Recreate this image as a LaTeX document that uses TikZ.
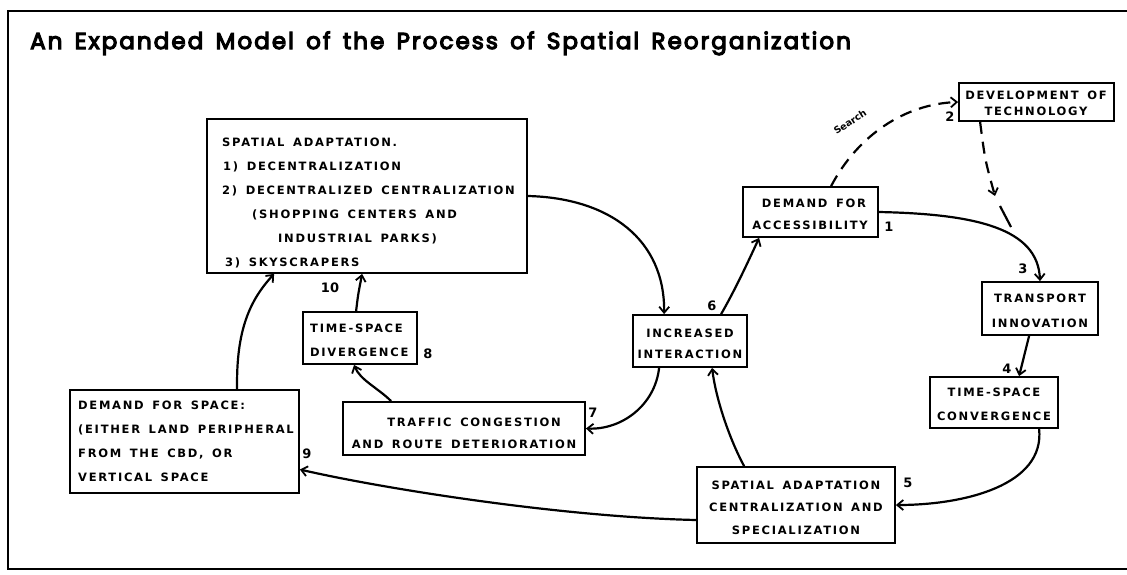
\documentclass[tikz,border=0pt]{standalone}
\usepackage{fontspec}
\usetikzlibrary{arrows.meta,calc}
\newfontfamily\titlefont{Poppins}[FakeBold=5,LetterSpace=9,WordSpace=1.5]
\newfontfamily\boxfont{DejaVu Sans}[LetterSpace=15,WordSpace=1.5]
\newfontfamily\numfont{DejaVu Sans}
\begin{document}
\begin{tikzpicture}[x=1pt,y=-1pt,
  box/.style={draw,line width=1.8pt,inner sep=0pt,rectangle},
  txt/.style={font=\boxfont\bfseries\fontsize{11.5}{13}\selectfont,inner sep=0pt,anchor=base},
  txtl/.style={txt,anchor=base west},
  num/.style={font=\numfont\bfseries\fontsize{13}{15}\selectfont,inner sep=0pt,anchor=base},
  conn/.style={line width=2.2pt,-{Straight Barb[length=6pt,width=10pt,line width=1.8pt]}},
  dconn/.style={conn,dash pattern=on 12pt off 8pt},
  dline/.style={line width=2.2pt,dash pattern=on 12pt off 8pt}]
\useasboundingbox (0,0) rectangle (1127,574);
% frame
\draw[line width=2.6pt] (1127,11) -- (8,11) -- (8,569) -- (1127,569);
% title
\node[font=\titlefont\fontsize{23}{26}\selectfont,anchor=base west,inner sep=0pt] (title) at (30,49) {An Expanded Model of the Process of Spatial Reorganization};
% boxes
\node[box,minimum width=320pt,minimum height=154pt] (b10) at (367,196) {};
\node[box,minimum width=114pt,minimum height=52pt] (b8) at (360,338) {};
\node[box,minimum width=229pt,minimum height=103pt] (b9) at (184.5,441.5) {};
\node[box,minimum width=242pt,minimum height=53pt] (b7) at (464,428.5) {};
\node[box,minimum width=114pt,minimum height=52pt] (b6) at (690,341) {};
\node[box,minimum width=135pt,minimum height=50pt] (b1) at (810.5,212) {};
\node[box,minimum width=155pt,minimum height=38pt] (b2) at (1036.5,102) {};
\node[box,minimum width=116pt,minimum height=53pt] (b3) at (1040,308.5) {};
\node[box,minimum width=128pt,minimum height=51pt] (b4) at (994,402.5) {};
\node[box,minimum width=198pt,minimum height=76pt] (b5) at (796,505) {};
% texts box 10
\node[txtl] (t10a) at (222,146) {SPATIAL ADAPTATION.};
\node[txtl] (t10b) at (223,170) {1) DECENTRALIZATION};
\node[txtl] (t10c) at (222,194) {2) DECENTRALIZED CENTRALIZATION};
\node[txtl] (t10d) at (252,218) {(SHOPPING CENTERS AND};
\node[txtl] (t10e) at (278,242) {INDUSTRIAL PARKS)};
\node[txtl] (t10f) at (225,266) {3) SKYSCRAPERS};
% box 9
\node[txtl] (t9a) at (78,409) {DEMAND FOR SPACE:};
\node[txtl] (t9b) at (78,433) {(EITHER LAND PERIPHERAL};
\node[txtl] (t9c) at (78,457) {FROM THE CBD, OR};
\node[txtl] (t9d) at (78,481) {VERTICAL SPACE};
% box 7
\node[txt] (t7a) at (474,426) {TRAFFIC CONGESTION};
\node[txt] (t7b) at (464,448) {AND ROUTE DETERIORATION};
% box 8
\node[txtl] (t8a) at (310,332) {TIME-SPACE};
\node[txtl] (t8b) at (310,356) {DIVERGENCE};
% box 6
\node[txt] (t6a) at (690,337) {INCREASED};
\node[txt] (t6b) at (690,358) {INTERACTION};
% box 1
\node[txt] (t1a) at (814,207) {DEMAND FOR};
\node[txt] (t1b) at (810,229) {ACCESSIBILITY};
% box 2
\node[txt] (t2a) at (1036,99) {DEVELOPMENT OF};
\node[txt] (t2b) at (1036,115) {TECHNOLOGY};
% box 3
\node[txt] (t3a) at (1040,302) {TRANSPORT};
\node[txt] (t3b) at (1040,327) {INNOVATION};
% box 4
\node[txt] (t4a) at (994,396) {TIME-SPACE};
\node[txt] (t4b) at (994,420) {CONVERGENCE};
% box 5
\node[txt] (t5a) at (796,489) {SPATIAL ADAPTATION};
\node[txt] (t5b) at (796,511) {CENTRALIZATION AND};
\node[txt] (t5c) at (796,534) {SPECIALIZATION};
% numbers
\node[num] (n1) at (889,231) {1};
\node[num] (n2) at (950,121) {2};
\node[num] (n3) at (1023,273) {3};
\node[num] (n4) at (1007,373) {4};
\node[num] (n5) at (908,487) {5};
\node[num] (n6) at (712,310) {6};
\node[num] (n7) at (593,417) {7};
\node[num] (n8) at (428,358) {8};
\node[num] (n9) at (307,458) {9};
\node[num] (n10) at (330,292) {10};
% connectors
\draw[conn] (b10.east) .. controls (610,198) and (665,240) .. ([xshift=32pt]b6.north west);
\draw[conn] ([xshift=89pt]b6.north west) .. controls (735,290) and (748,262) .. ([xshift=17pt]b1.south west);
\draw[conn] (b1.east) .. controls (975,214) and (1038,228) .. (b3.north);
\coordinate (merge) at (1011,227);
\coordinate (dmid) at (995,196);
\coordinate (dmid2) at (1000,206);
\draw[dconn] ([xshift=22pt]b2.south west) .. controls (985,160) .. (dmid);
\draw[line width=2.2pt] (dmid2) -- (merge);
\draw[dconn] ([xshift=89pt]b1.north west) .. controls (858,135) and (905,104) .. (b2.west);
\node[font=\numfont\bfseries\fontsize{9.5}{11}\selectfont,rotate=33,inner sep=0pt] (search) at (850,122) {Search};
\draw[conn] ([xshift=48pt]b3.south west) -- ([xshift=90pt]b4.north west);
\draw[conn] ([xshift=110pt]b4.south west) .. controls (1045,485) and (965,505) .. (b5.east);
\draw[conn] ([xshift=48pt]b5.north west) .. controls (730,440) and (716,400) .. ([xshift=80pt]b6.south west);
\draw[conn] ([yshift=-15pt]b5.west) .. controls (560,517) and (380,488) .. ([yshift=-28pt]b9.east);
\draw[conn] ([xshift=27pt]b6.south west) .. controls (655,405) and (622,430) .. (b7.east);
\draw[conn] ([xshift=49pt]b7.north west) .. controls (378,388) and (360,380) .. ([xshift=52pt]b8.south west);
\draw[conn] ([xshift=54pt]b8.north west) .. controls (358,295) .. ([xshift=156pt]b10.south west);
\draw[conn] ([xshift=168pt]b9.north west) .. controls (236,330) and (250,300) .. ([xshift=68pt]b10.south west);
\end{tikzpicture}
\end{document}
